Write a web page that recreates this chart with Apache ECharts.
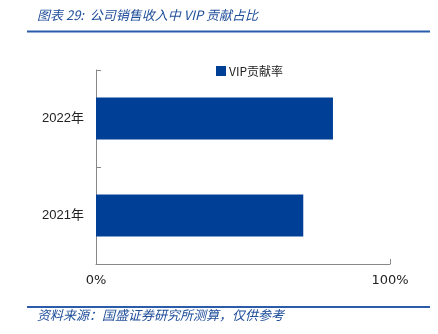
<!DOCTYPE html>
<html><head><meta charset="utf-8">
<script src="https://cdn.jsdelivr.net/npm/echarts@6/dist/echarts.min.js"></script>
<style>html,body{margin:0;padding:0;background:#fff}#c{width:438px;height:334px}</style>
</head><body><div id="c"></div>
<script>
var categories = ['2021年', '2022年'];
var vipShare = [70.5, 80.6];
var xTicks = ['0%', '100%'];
var seriesName = 'VIP贡献率';
var titleText = '图表 29:  公司销售收入中 VIP 贡献占比';
var sourceText = '资料来源：国盛证券研究所测算，仅供参考';

var chart = echarts.init(document.getElementById('c'));
chart.setOption({
  animation: false,
  backgroundColor: '#fff',
  graphic: [
    {type:'text', left:37, top:9, style:{text:titleText, fill:'#1F4E9A', font:'italic 13px "Noto Sans CJK SC", sans-serif'}},
    {type:'rect', shape:{x:27, y:30.5, width:403, height:2}, style:{fill:'#2A5CAA'}},
    {type:'rect', shape:{x:27, y:306, width:403, height:2}, style:{fill:'#2A5CAA'}},
    {type:'text', left:37, top:309, style:{text:sourceText, fill:'#1F4E9A', font:'italic 13px "Noto Sans CJK SC", sans-serif'}}
  ],
  legend: {
    data:[seriesName], left:211, top:60, itemWidth:10, itemHeight:10, itemGap:3,
    icon:'rect',
    textStyle:{color:'#222', fontSize:12, fontFamily:'"Noto Sans CJK SC", sans-serif', padding:[0,0,0,-2]}
  },
  grid: {left:96, right:48, top:70, bottom:70, containLabel:false},
  xAxis: {
    type:'value', min:0, max:100, interval:100,
    axisLine:{show:true, lineStyle:{color:'#888'}},
    axisTick:{show:true, length:5, inside:true, lineStyle:{color:'#888'}},
    splitLine:{show:false},
    axisLabel:{margin:10, color:'#222', fontSize:13, fontFamily:'"DejaVu Sans", sans-serif',
      formatter:function(v){ return v===0 ? xTicks[0] : xTicks[1]; }}
  },
  yAxis: {
    type:'category', data:categories,
    axisLine:{show:true, lineStyle:{color:'#888'}},
    axisTick:{show:true, length:5, inside:true, lineStyle:{color:'#888'}},
    axisLabel:{margin:12, color:'#222', fontSize:13, fontFamily:'"Liberation Sans", "Noto Sans CJK SC", sans-serif'}
  },
  series: [{
    name:seriesName, type:'bar', data:vipShare, barWidth:42,
    itemStyle:{color:'#003F96'}
  }]
});
</script></body></html>
